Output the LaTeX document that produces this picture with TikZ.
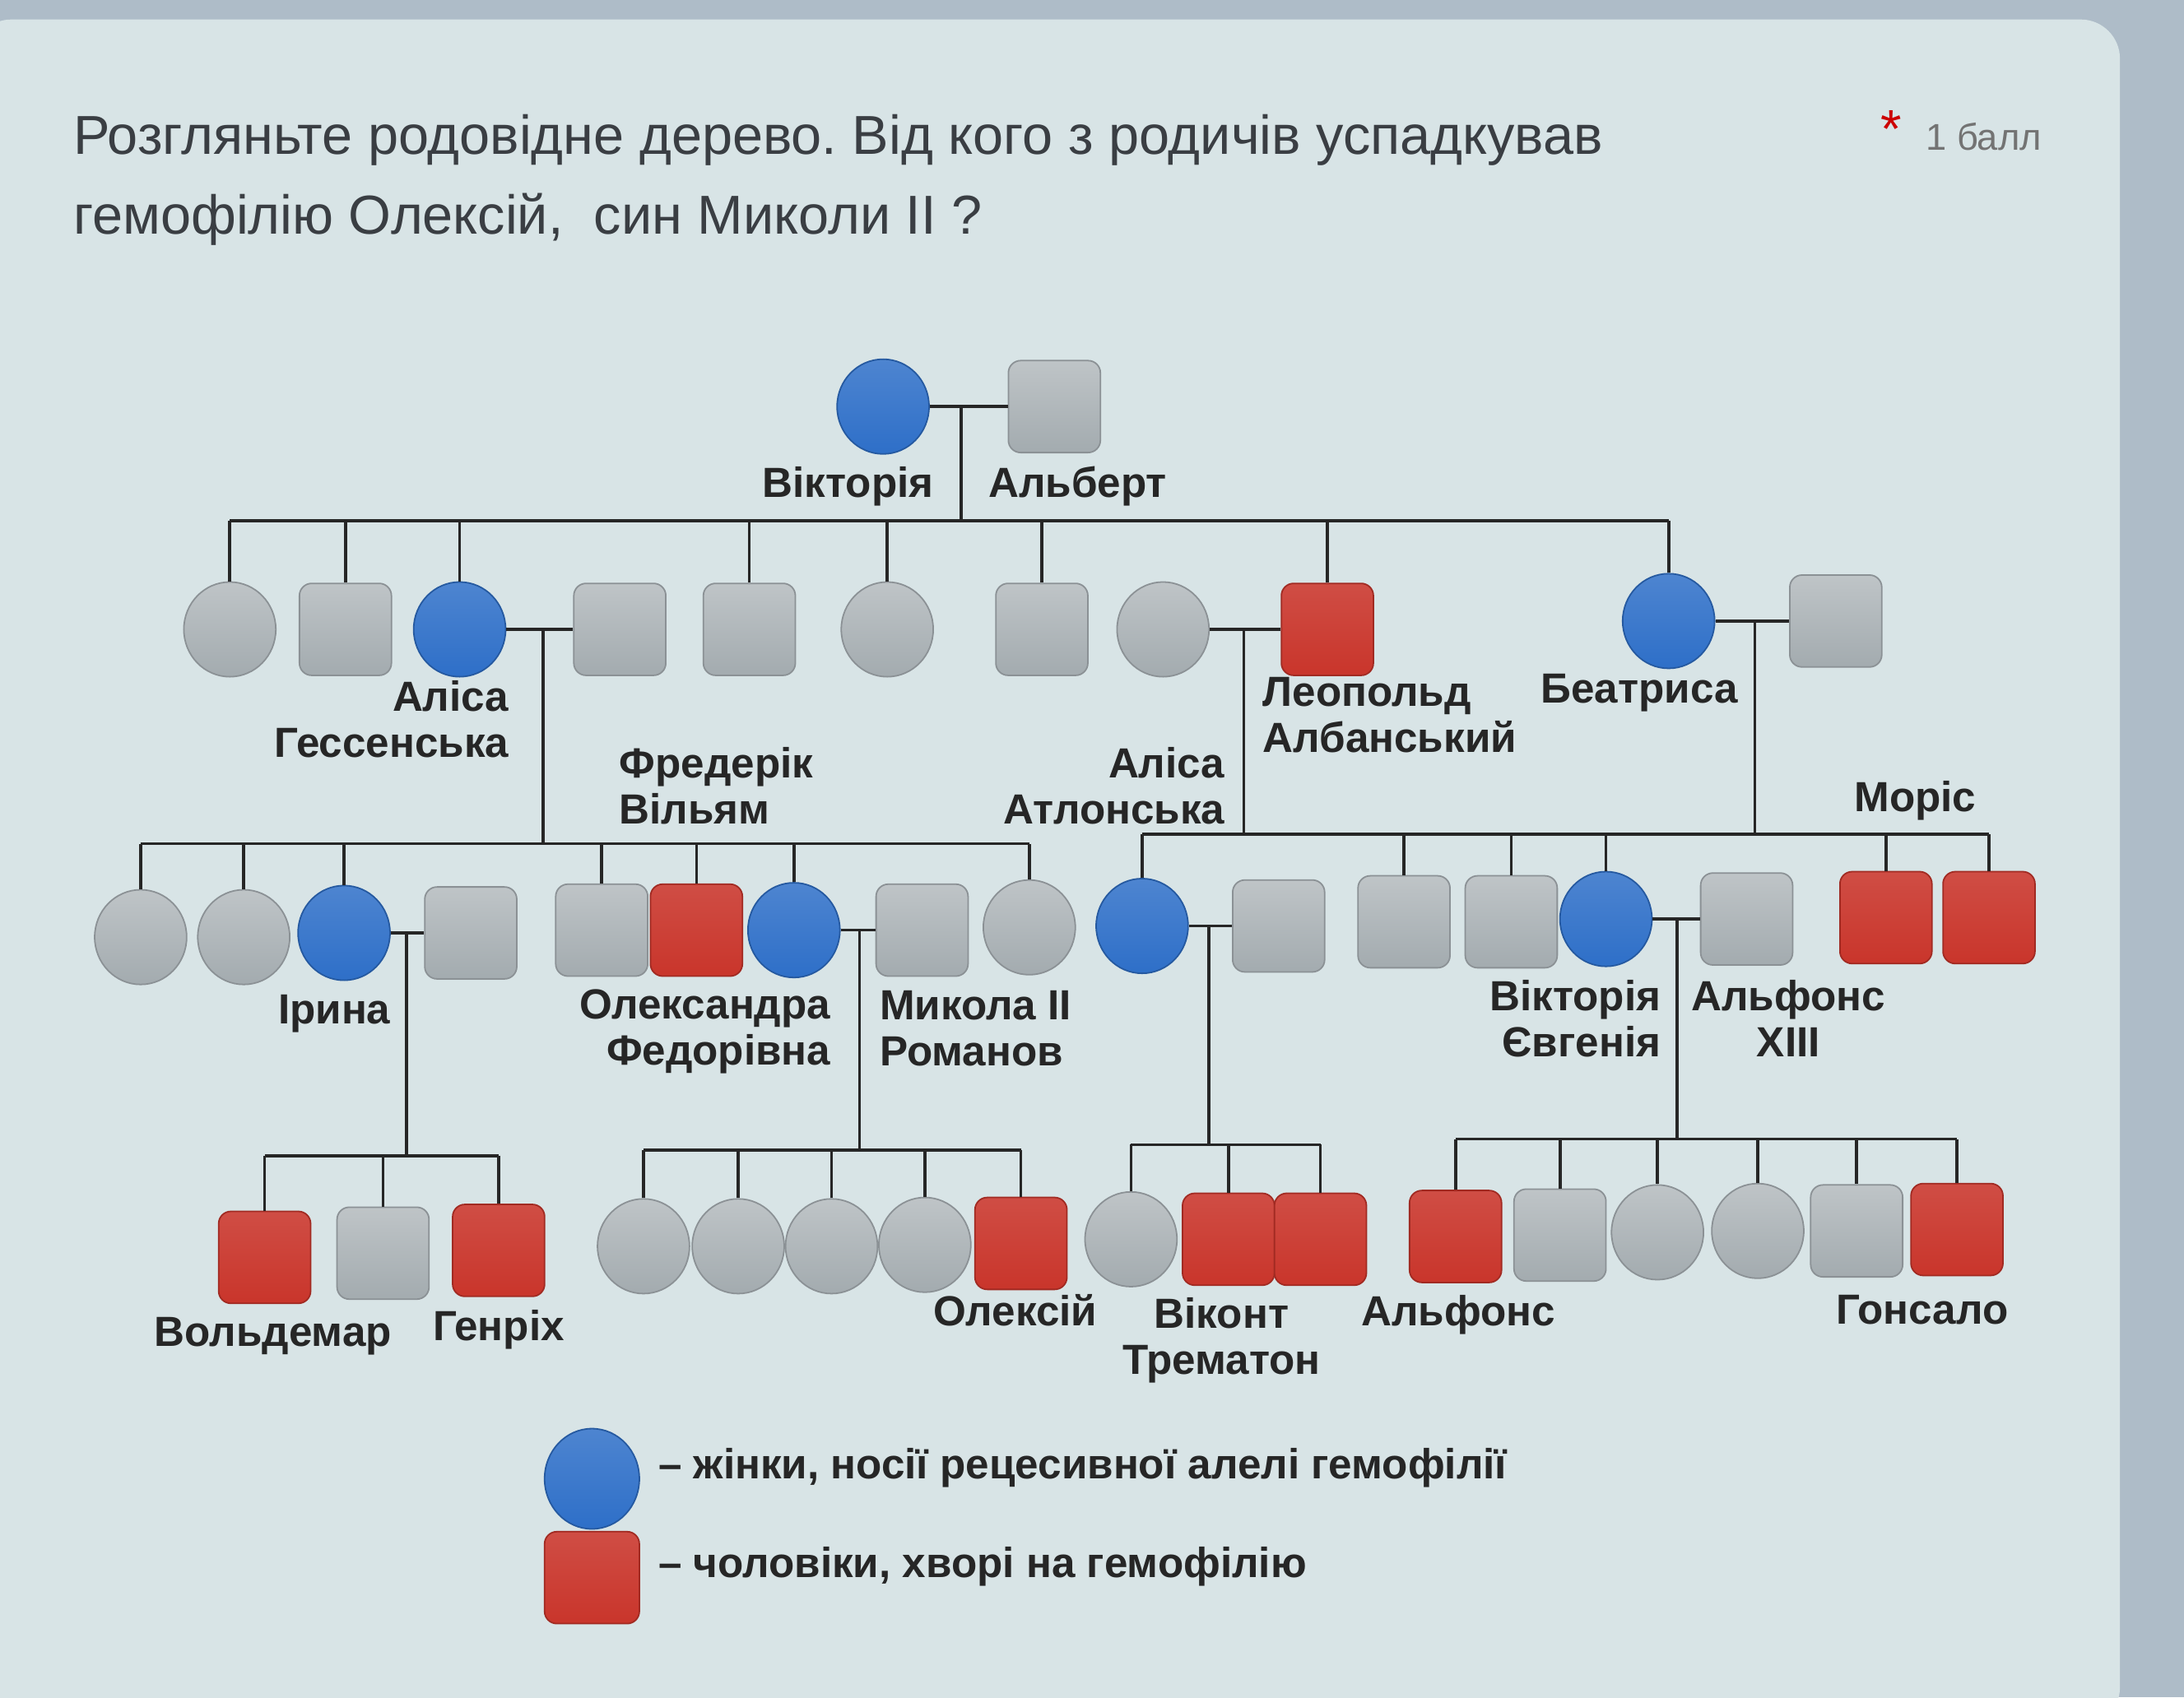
\documentclass[tikz,border=0pt]{standalone}
\usepackage{fontspec}
\setmainfont{Liberation Sans}
\usetikzlibrary{shapes.geometric}
\frenchspacing

\definecolor{cardbg}{HTML}{D8E4E6}
\definecolor{edgebg}{HTML}{AEBCC8}
\definecolor{carrierblue}{HTML}{2E6FC8}
\definecolor{sickred}{HTML}{C9352B}
\definecolor{healthygrey}{HTML}{A3ABAF}
\definecolor{titlegrey}{HTML}{3A3E43}

\tikzset{
  fem/.style={ellipse, minimum width=0.66cm, minimum height=0.68cm, inner sep=0pt},
  masc/.style={rectangle, rounded corners=2.5pt, minimum width=0.66cm, minimum height=0.66cm, inner sep=0pt},
  healthy/.style={top color=healthygrey!70!white, bottom color=healthygrey, draw=healthygrey!85!black, line width=0.3pt},
  carrier/.style={top color=carrierblue!85!white, bottom color=carrierblue, draw=carrierblue!80!black, line width=0.3pt},
  sick/.style={top color=sickred!88!white, bottom color=sickred, draw=sickred!80!black, line width=0.3pt},
  pname/.style={font=\bfseries\fontsize{8.6}{9.4}\selectfont, inner sep=0pt, text=black!85},
  kin/.style={line width=0.6pt, black!85},
}

\begin{document}
\begin{tikzpicture}[x=0.01cm, y=-0.01cm]
\useasboundingbox (0,0) rectangle (1568,1219);
% screen and card
\fill[edgebg] (0,0) rectangle (1568,1219);
\fill[cardbg, rounded corners=8pt] (-20,14) rectangle (1522,1240);

% question
\node[anchor=base west, inner sep=0pt, text=titlegrey, font=\fontsize{11.2}{13}\selectfont] (q1) at (52,111) {Розгляньте родовідне дерево. Від кого з родичів успадкував};
\node[anchor=base west, inner sep=0pt, text=titlegrey, font=\fontsize{11.2}{13}\selectfont] (q2) at (52,168) {гемофілію Олексій,\ \ син Миколи II ?};
\node[anchor=base, inner sep=0pt, text=red!80!black, font=\fontsize{11}{13}\selectfont] (star) at (1358,106) {*};
\node[anchor=base west, inner sep=0pt, text=gray!90!black, font=\fontsize{7.6}{10}\selectfont] (pts) at (1382,108) {1 балл};

% generation I
\node[fem, carrier] (vic) at (634,292) {};
\node[masc, healthy] (alb) at (757,292) {};
\node[pname, anchor=base east] (vicl) at (671,357) {Вікторія};
\node[pname, anchor=base west] (albl) at (709,357) {Альберт};

% generation II
\node[fem, healthy] (c1) at (165,452) {};
\node[masc, healthy] (c2) at (248,452) {};
\node[fem, carrier] (alice) at (330,452) {};
\node[masc, healthy] (louis) at (445,452) {};
\node[masc, healthy] (c5) at (538,452) {};
\node[fem, healthy] (c6) at (637,452) {};
\node[masc, healthy] (c7) at (748,452) {};
\node[fem, healthy] (helena) at (835,452) {};
\node[masc, sick] (leo) at (953,452) {};
\node[fem, carrier] (beat) at (1198,446) {};
\node[masc, healthy] (henry) at (1318,446) {};

\node[pname, anchor=north east, align=right] (alicel) at (366,488) {Аліса\\Гессенська};
\node[pname, anchor=north west, align=left] (fritl) at (444,536) {Фредерік\\Вільям};
\node[pname, anchor=north east, align=right] (athll) at (880,536) {Аліса\\Атлонська};
\node[pname, anchor=north west, align=left] (leol) at (906,486) {Леопольд\\Албанський};
\node[pname, anchor=base] (beatl) at (1177,505) {Беатриса};
\node[pname, anchor=base] (maurl) at (1375,583) {Моріс};

% generation III
\node[fem, healthy] (d1) at (101,673) {};
\node[fem, healthy] (d2) at (175,673) {};
\node[fem, carrier] (irina) at (247,670) {};
\node[masc, healthy] (hein) at (338,670) {};
\node[masc, healthy] (d5) at (432,668) {};
\node[masc, sick] (frit) at (500,668) {};
\node[fem, carrier] (alix) at (570,668) {};
\node[masc, healthy] (nicky) at (662,668) {};
\node[fem, healthy] (d9) at (739,666) {};
\node[fem, carrier] (athl) at (820,665) {};
\node[masc, healthy] (alex) at (918,665) {};
\node[masc, healthy] (charles) at (1008,662) {};
\node[masc, healthy] (e2) at (1085,662) {};
\node[fem, carrier] (ena) at (1153,660) {};
\node[masc, healthy] (alfonso) at (1254,660) {};
\node[masc, sick] (e5) at (1354,659) {};
\node[masc, sick] (maur) at (1428,659) {};

\node[pname, anchor=base east] (irinal) at (281,735) {Ірина};
\node[pname, anchor=north east, align=right] (alixl) at (597,710) {Олександра\\Федорівна};
\node[pname, anchor=north west, align=left] (nickyl) at (631,711) {Микола II\\Романов};
\node[pname, anchor=north east, align=right] (enal) at (1193,703) {Вікторія\\Євгенія};
\node[pname, anchor=north, align=center] (alfonsol) at (1284,703) {Альфонс\\XIII};

% generation IV
\node[masc, sick] (wald) at (190,903) {};
\node[masc, healthy] (f2) at (275,900) {};
\node[masc, sick] (henr) at (358,898) {};
\node[fem, healthy] (g1) at (462,895) {};
\node[fem, healthy] (g2) at (530,895) {};
\node[fem, healthy] (g3) at (597,895) {};
\node[fem, healthy] (g4) at (664,894) {};
\node[masc, sick] (alexei) at (733,893) {};
\node[fem, healthy] (h1) at (812,890) {};
\node[masc, sick] (trem) at (882,890) {};
\node[masc, sick] (h3) at (948,890) {};
\node[masc, sick] (alf) at (1045,888) {};
\node[masc, healthy] (k2) at (1120,887) {};
\node[fem, healthy] (k3) at (1190,885) {};
\node[fem, healthy] (k4) at (1262,884) {};
\node[masc, healthy] (k5) at (1333,884) {};
\node[masc, sick] (gonz) at (1405,883) {};

\node[pname, anchor=base] (waldl) at (196,967) {Вольдемар};
\node[pname, anchor=base] (henrl) at (358,963) {Генріх};
\node[pname, anchor=base] (alexeil) at (729,952) {Олексій};
\node[pname, anchor=north, align=center] (treml) at (877,931) {Віконт\\Трематон};
\node[pname, anchor=base] (alfl) at (1047,952) {Альфонс};
\node[pname, anchor=base] (gonzl) at (1380,951) {Гонсало};

% marriages and descent
\coordinate (j0) at (690,292);
\coordinate (j1) at (390,452);
\coordinate (j2) at (893,452);
\coordinate (j3) at (1260,446);
\coordinate (j4) at (292,670);
\coordinate (j5) at (617,668);
\coordinate (j6) at (868,665);
\coordinate (j7) at (1204,660);
\coordinate (b0) at (0,374);
\coordinate (b1) at (0,606);
\coordinate (b2) at (0,599);
\coordinate (b3) at (0,830);
\coordinate (b4) at (0,826);
\coordinate (b5) at (0,822);
\coordinate (b6) at (0,818);

\draw[kin] (vic) -- (alb);
\draw[kin] (alice) -- (louis);
\draw[kin] (helena) -- (leo);
\draw[kin] (beat) -- (henry);
\draw[kin] (irina) -- (hein);
\draw[kin] (alix) -- (nicky);
\draw[kin] (athl) -- (alex);
\draw[kin] (ena) -- (alfonso);

\draw[kin] (j0) -- (j0 |- b0);
\draw[kin] (j1) -- (j1 |- b1);
\draw[kin] (j2) -- (j2 |- b2);
\draw[kin] (j3) -- (j3 |- b2);
\draw[kin] (j4) -- (j4 |- b3);
\draw[kin] (j5) -- (j5 |- b4);
\draw[kin] (j6) -- (j6 |- b5);
\draw[kin] (j7) -- (j7 |- b6);

% sibling bars
\draw[kin] (c1.north |- b0) -- (beat.north |- b0);
\draw[kin] (d1.north |- b1) -- (d9.north |- b1);
\draw[kin] (athl.north |- b2) -- (maur.north |- b2);
\draw[kin] (wald.north |- b3) -- (henr.north |- b3);
\draw[kin] (g1.north |- b4) -- (alexei.north |- b4);
\draw[kin] (h1.north |- b5) -- (h3.north |- b5);
\draw[kin] (alf.north |- b6) -- (gonz.north |- b6);

\foreach \k in {c1,c2,alice,c5,c6,c7,leo,beat}
  \draw[kin] (\k.north |- b0) -- (\k.north);
\foreach \k in {d1,d2,irina,d5,frit,alix,d9}
  \draw[kin] (\k.north |- b1) -- (\k.north);
\foreach \k in {athl,charles,e2,ena,e5,maur}
  \draw[kin] (\k.north |- b2) -- (\k.north);
\foreach \k in {wald,f2,henr}
  \draw[kin] (\k.north |- b3) -- (\k.north);
\foreach \k in {g1,g2,g3,g4,alexei}
  \draw[kin] (\k.north |- b4) -- (\k.north);
\foreach \k in {h1,trem,h3}
  \draw[kin] (\k.north |- b5) -- (\k.north);
\foreach \k in {alf,k2,k3,k4,k5,gonz}
  \draw[kin] (\k.north |- b6) -- (\k.north);

% legend
\node[fem, carrier, minimum width=0.68cm, minimum height=0.72cm] (keyf) at (425,1062) {};
\node[masc, sick, minimum width=0.68cm] (keym) at (425,1133) {};
\node[pname, anchor=base west] (keyfl) at (472,1062) {– жінки, носії рецесивної алелі гемофілії};
\node[pname, anchor=base west] (keyml) at (472,1133) {– чоловіки, хворі на гемофілію};
\end{tikzpicture}
\end{document}
